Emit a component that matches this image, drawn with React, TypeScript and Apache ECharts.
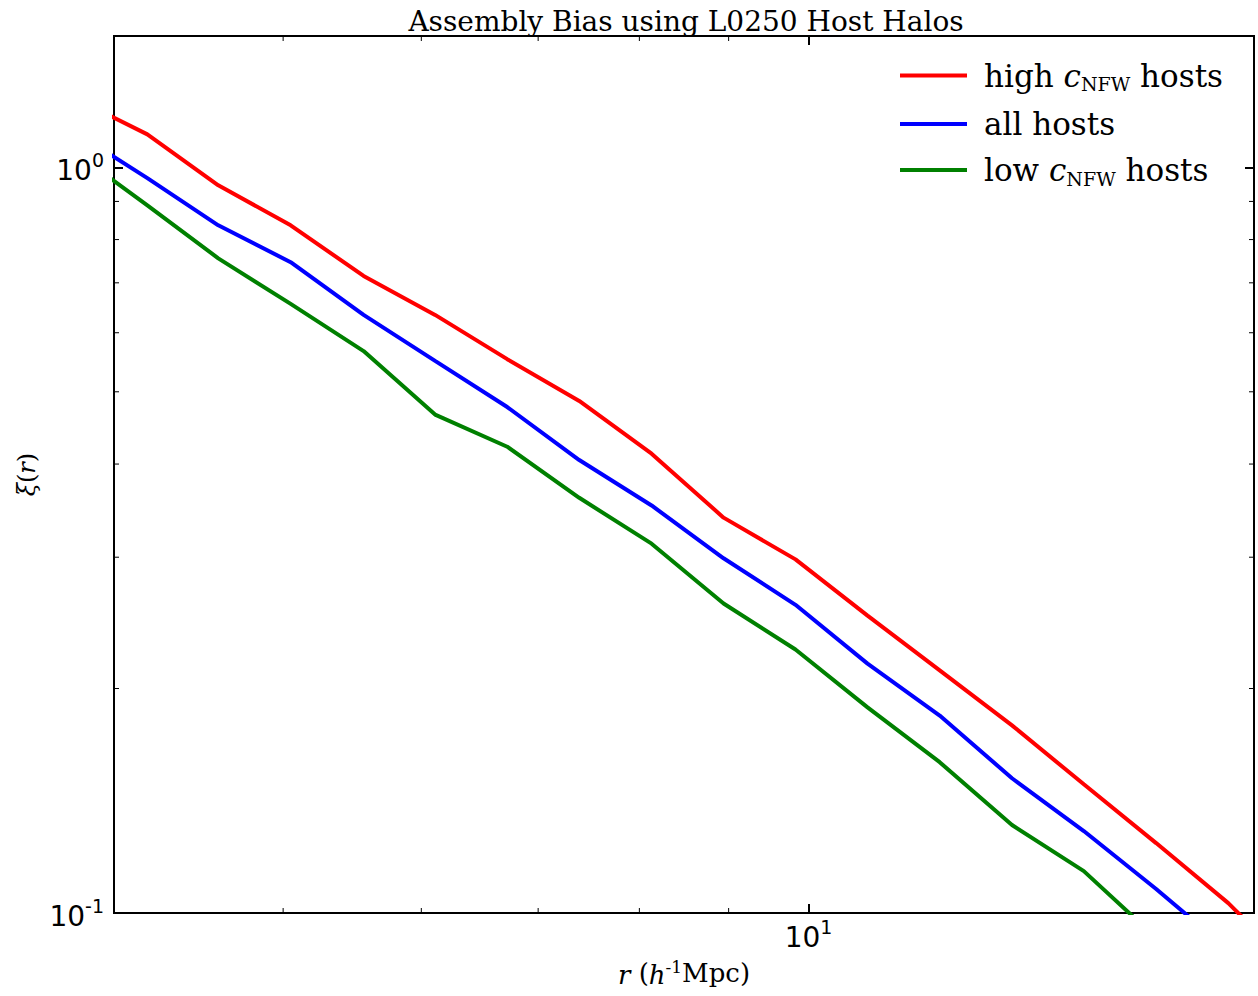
import React, { useEffect, useRef } from "react";
import * as echarts from "echarts";

// separation r (h^-1 Mpc)
const rValues = [3.80, 4.18, 4.59, 5.05, 5.56, 6.11, 6.72, 7.39, 8.13, 8.94, 9.83, 10.81, 11.89, 13.08, 14.38, 15.82, 17.40, 19.13];
// xi(r) for each host subsample
const highC = [1.237, 1.107, 0.946, 0.836, 0.715, 0.634, 0.553, 0.486, 0.413, 0.339, 0.298, 0.2505, 0.2115, 0.1785, 0.1488, 0.1241, 0.1031, 0.0826];
const allHosts = [1.114, 0.967, 0.836, 0.746, 0.634, 0.550, 0.477, 0.405, 0.352, 0.299, 0.259, 0.216, 0.184, 0.1516, 0.1288, 0.1077, 0.0892, 0.074];
const lowC = [1.047, 0.889, 0.755, 0.656, 0.567, 0.466, 0.422, 0.3604, 0.3128, 0.260, 0.2256, 0.1887, 0.1593, 0.1312, 0.1138, 0.0926, 0.077, 0.064];

const seriesNames = ["high c_NFW hosts", "all hosts", "low c_NFW hosts"];
const legendLabels: Record<string, string> = {
  "high c_NFW hosts": "{n|high }{c|c}{sub|NFW}{n| hosts}",
  "all hosts": "{n|all hosts}",
  "low c_NFW hosts": "{n|low }{c|c}{sub|NFW}{n| hosts}",
};
const seriesColors = ["#ff0000", "#0000ff", "#008000"];

const xMin = 4;
const xMax = 18;
const yMin = 0.1;
const yMax = 1.5;
const xMinorTicks = [5, 6, 7, 8, 9];
const yMinorTicks = [0.2, 0.3, 0.4, 0.5, 0.6, 0.7, 0.8, 0.9];

const titleText = "Assembly Bias using L0250 Host Halos";

const powLabel = (v: number) => {
  const l = Math.log10(v);
  const r = Math.round(l);
  if (Math.abs(l - r) > 1e-6) return "";
  return `{b|10}{s|${r}}`;
};

const tickRich = {
  b: { fontFamily: "DejaVu Sans", fontSize: 28, lineHeight: 34, verticalAlign: "bottom", color: "#000" },
  s: { fontFamily: "DejaVu Sans", fontSize: 19, lineHeight: 19, verticalAlign: "top", color: "#000" },
};

export default function App() {
  const ref = useRef<HTMLDivElement>(null);
  useEffect(() => {
    if (!ref.current) return;
    const chart = echarts.init(ref.current, null, { renderer: "svg" });

    const majorTick = { show: true, inside: true, length: 9, lineStyle: { color: "#000", width: 2 } };

    const lineSeries = [highC, allHosts, lowC].map((vals, i) => ({
      name: seriesNames[i],
      type: "line",
      data: rValues.map((r, k) => [r, vals[k]]),
      showSymbol: false,
      symbol: "none",
      color: seriesColors[i],
      lineStyle: { color: seriesColors[i], width: 4 },
      clip: true,
      z: 3,
    }));

    const option: any = {
      animation: false,
      backgroundColor: "#fff",
      title: {
        text: titleText,
        left: 681,
        textAlign: "center",
        top: 2,
        textStyle: { fontFamily: "DejaVu Serif", fontSize: 28, fontWeight: "normal", color: "#000" },
      },
      grid: {
        left: 114,
        top: 36,
        width: 1140,
        height: 877,
        containLabel: false,
        outerBoundsMode: "none",
        show: true,
        borderColor: "#000",
        borderWidth: 2,
        backgroundColor: "transparent",
      },
      legend: {
        data: seriesNames,
        orient: "vertical",
        left: 895,
        top: 55,
        itemGap: 15,
        itemWidth: 67,
        itemHeight: 4,
        icon: "rect",
        formatter: (name: string) => legendLabels[name],
        textStyle: {
          padding: [0, 0, 0, 12],
          rich: {
            n: { fontFamily: "DejaVu Serif", fontSize: 31, lineHeight: 36, color: "#000" },
            c: { fontFamily: "DejaVu Serif", fontStyle: "italic", fontSize: 31, lineHeight: 36, color: "#000" },
            sub: { fontFamily: "DejaVu Serif", fontSize: 19, lineHeight: 18, verticalAlign: "bottom", color: "#000" },
          },
        },
      },
      xAxis: [
        {
          type: "log",
          logBase: 10,
          min: xMin,
          max: xMax,
          position: "bottom",
          axisLine: { show: false },
          axisTick: majorTick,
          splitLine: { show: false },
          axisLabel: { show: true, margin: 4, formatter: powLabel, rich: tickRich },
          name: "{i|r} ({i|h}{sup|-1}Mpc)",
          nameLocation: "middle",
          nameGap: 45,
          nameTextStyle: {
            rich: {
              i: { fontFamily: "DejaVu Serif", fontStyle: "italic", fontSize: 26, lineHeight: 30, verticalAlign: "bottom", color: "#000" },
              sup: { fontFamily: "DejaVu Serif", fontSize: 17, lineHeight: 16, verticalAlign: "top", color: "#000" },
            },
            fontFamily: "DejaVu Serif",
            fontSize: 26,
            lineHeight: 30,
            color: "#000",
          },
        },
        {
          type: "log",
          logBase: 10,
          min: xMin,
          max: xMax,
          position: "top",
          axisLine: { show: false },
          axisTick: majorTick,
          splitLine: { show: false },
          axisLabel: { show: false },
        },
      ],
      yAxis: [
        {
          type: "log",
          logBase: 10,
          min: yMin,
          max: yMax,
          position: "left",
          axisLine: { show: false },
          axisTick: majorTick,
          splitLine: { show: false },
          axisLabel: { show: true, margin: 10, formatter: powLabel, rich: tickRich },
          name: "{g|ξ}{n|(}{i|r}{n|)}",
          nameLocation: "middle",
          nameRotate: 90,
          nameGap: 74,
          nameTextStyle: {
            rich: {
              g: { fontFamily: "DejaVu Serif", fontStyle: "italic", fontSize: 24, color: "#000" },
              n: { fontFamily: "DejaVu Serif", fontSize: 24, color: "#000" },
              i: { fontFamily: "DejaVu Serif", fontStyle: "italic", fontSize: 24, color: "#000" },
            },
          },
        },
        {
          type: "log",
          logBase: 10,
          min: yMin,
          max: yMax,
          position: "right",
          axisLine: { show: false },
          axisTick: majorTick,
          splitLine: { show: false },
          axisLabel: { show: false },
        },
      ],
      series: [
        ...lineSeries,
        {
          type: "custom",
          silent: true,
          clip: false,
          z: 5,
          data: xMinorTicks.map((v) => [v, 1]),
          encode: { x: 0, y: 1 },
          renderItem: (params: any, api: any) => {
            const x = api.coord([api.value(0), 1])[0];
            const cs = params.coordSys;
            const st = { stroke: "#000", lineWidth: 1 };
            return {
              type: "group",
              children: [
                { type: "line", shape: { x1: x, y1: cs.y + cs.height, x2: x, y2: cs.y + cs.height - 5 }, style: st },
                { type: "line", shape: { x1: x, y1: cs.y, x2: x, y2: cs.y + 5 }, style: st },
              ],
            };
          },
        },
        {
          type: "custom",
          silent: true,
          clip: false,
          z: 5,
          data: yMinorTicks.map((v) => [10, v]),
          encode: { x: 0, y: 1 },
          renderItem: (params: any, api: any) => {
            const y = api.coord([10, api.value(1)])[1];
            const cs = params.coordSys;
            const st = { stroke: "#000", lineWidth: 1 };
            return {
              type: "group",
              children: [
                { type: "line", shape: { x1: cs.x, y1: y, x2: cs.x + 5, y2: y }, style: st },
                { type: "line", shape: { x1: cs.x + cs.width, y1: y, x2: cs.x + cs.width - 5, y2: y }, style: st },
              ],
            };
          },
        },
      ],
    };

    chart.setOption(option);
    return () => chart.dispose();
  }, []);

  return (
    <div
      ref={ref}
      style={{ position: "absolute", left: 0, top: 0, width: 1258, height: 996 }}
    />
  );
}
